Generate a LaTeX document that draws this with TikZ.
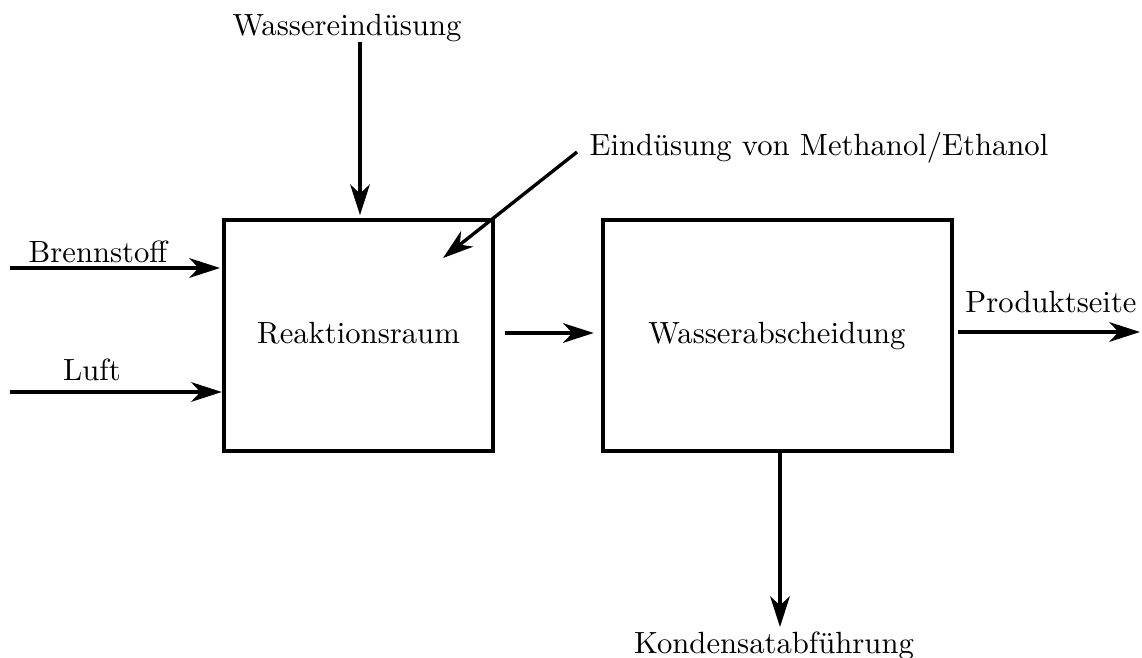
\documentclass[tikz,border=0pt]{standalone}
\usetikzlibrary{arrows.meta}
\begin{document}
\begin{tikzpicture}[x=0.326pt,y=-0.326pt,
  block/.style={draw,line width=1.6pt,inner sep=0pt,outer sep=0pt,minimum height=75.3pt},
  flow/.style={line width=1.1pt,-{Stealth[length=10pt,width=6.4pt,inset=3pt]}},
  lbl/.style={inner sep=0pt,anchor=base}]
\useasboundingbox (0,0) rectangle (1142,658);

% process blocks
\node[block,minimum width=87.7pt] (b1) at (358.5,335.5) {};
\node[lbl] (t1) at (358.5,343) {Reaktionsraum};
\node[block,minimum width=113.8pt] (b2) at (777.5,335.5) {};
\node[lbl] (t2) at (777,343) {Wasserabscheidung};

% labels
\node[lbl] (wasser) at (347,35) {Wassereindüsung};
\node[lbl,anchor=base west] (meth) at (589,155) {Eindüsung von Methanol/Ethanol};
\node[lbl] (brenn) at (98,262) {Brennstoff};
\node[lbl] (luft) at (92,380) {Luft};
\node[lbl] (prod) at (1051,312) {Produktseite};
\node[lbl] (kond) at (774,653) {Kondensatabführung};

% free ends of the inflows and outflows
\coordinate (wa) at (360,42);
\coordinate (me) at (577,152);
\coordinate (mt) at (443,258);
\coordinate (bs) at (10,268);
\coordinate (lu) at (10,392);
\coordinate (pr) at (1140,332);
\coordinate (ko) at (780,627);

% connectors
\draw[flow,shorten >=1.6pt] (wa) -- (wa |- b1.north);
\draw[flow] (me) -- (mt);
\draw[flow,shorten >=1.3pt] (bs) -- (bs -| b1.west);
\draw[flow,shorten >=0.7pt] (lu) -- (lu -| b1.west);
\draw[flow,shorten <=4pt,shorten >=3pt] (b1.east |- 0,333) -- (b2.west |- 0,333);
\draw[flow,shorten <=2pt] (b2.east |- pr) -- (pr);
\draw[flow,shorten <=0.7pt] (ko |- b2.south) -- (ko);
\end{tikzpicture}
\end{document}
